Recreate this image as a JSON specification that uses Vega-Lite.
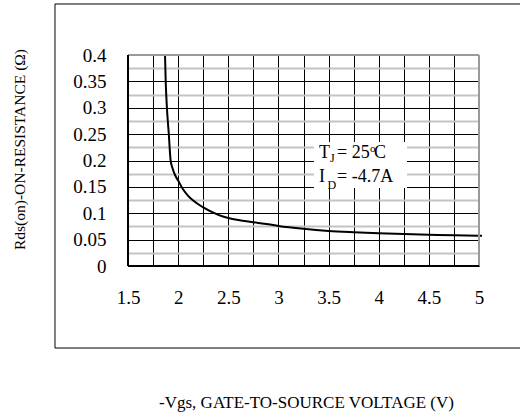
{
  "$schema": "https://vega.github.io/schema/vega-lite/v6.json",
  "width": 351,
  "height": 211,
  "autosize": {"type": "none"},
  "padding": {"left": 128, "top": 55, "right": 41, "bottom": 148},
  "background": "white",
  "config": {"view": {"stroke": null}, "font": "Liberation Serif"},
  "data": {"values": [{"note": "frame"}]},
  "resolve": {"axis": {"x": "independent", "y": "independent"}},
  "layer": [
    {
      "data": {"values": [{"vgs": 1.869, "rds": 0.4}, {"vgs": 1.876, "rds": 0.35}, {"vgs": 1.888, "rds": 0.3}, {"vgs": 1.9, "rds": 0.267}, {"vgs": 1.907, "rds": 0.25}, {"vgs": 1.915, "rds": 0.225}, {"vgs": 1.925, "rds": 0.2}, {"vgs": 1.945, "rds": 0.185}, {"vgs": 1.97, "rds": 0.172}, {"vgs": 2.0, "rds": 0.162}, {"vgs": 2.05, "rds": 0.145}, {"vgs": 2.1, "rds": 0.133}, {"vgs": 2.15, "rds": 0.124}, {"vgs": 2.25, "rds": 0.111}, {"vgs": 2.4, "rds": 0.097}, {"vgs": 2.5, "rds": 0.091}, {"vgs": 2.6, "rds": 0.087}, {"vgs": 2.75, "rds": 0.083}, {"vgs": 2.9, "rds": 0.079}, {"vgs": 3.0, "rds": 0.076}, {"vgs": 3.25, "rds": 0.0705}, {"vgs": 3.5, "rds": 0.0665}, {"vgs": 3.75, "rds": 0.064}, {"vgs": 4.0, "rds": 0.062}, {"vgs": 4.25, "rds": 0.0605}, {"vgs": 4.5, "rds": 0.0593}, {"vgs": 4.75, "rds": 0.0583}, {"vgs": 5.03, "rds": 0.0572}]},
      "mark": {"type": "line", "color": "black", "strokeWidth": 2, "interpolate": "monotone"},
      "encoding": {
        "x": {
          "field": "vgs", "type": "quantitative",
          "scale": {"domain": [1.5, 5], "nice": false, "zero": false},
          "axis": {
            "values": [1.5, 1.75, 2, 2.25, 2.5, 2.75, 3, 3.25, 3.5, 3.75, 4, 4.25, 4.5, 4.75, 5],
            "labelExpr": "(datum.value*2) % 1 == 0 ? format(datum.value, '~g') : ''",
            "grid": true, "gridColor": "black", "gridWidth": 1, "gridOpacity": 1,
            "domain": false, "ticks": false,
            "labelPadding": 22, "labelFont": "Liberation Serif", "labelFontSize": 19, "labelColor": "black", "labelFlush": false, "labelOverlap": false,
            "title": "-Vgs, GATE-TO-SOURCE VOLTAGE (V)",
            "titleFont": "Liberation Serif",
            "titleFontSize": 17, "titleFontWeight": "normal", "titleColor": "black",
            "titleX": 178, "titleY": 136, "titleBaseline": "middle", "titleAlign": "center"
          }
        },
        "y": {
          "field": "rds", "type": "quantitative",
          "scale": {"domain": [0, 0.4], "nice": false},
          "axis": {
            "values": [0, 0.025, 0.05, 0.075, 0.1, 0.125, 0.15, 0.175, 0.2, 0.225, 0.25, 0.275, 0.3, 0.325, 0.35, 0.375, 0.4],
            "labelExpr": "abs(datum.value*20 - round(datum.value*20)) < 0.001 ? format(datum.value, '~g') : ''",
            "grid": true,
            "gridColor": {"condition": {"test": "abs(datum.value*20 - round(datum.value*20)) < 0.001", "value": "black"}, "value": "#c4c4c4"},
            "gridWidth": {"condition": {"test": "abs(datum.value*20 - round(datum.value*20)) < 0.001", "value": 1}, "value": 2},
            "gridOpacity": 1,
            "domain": false, "ticks": false,
            "labelPadding": 22, "labelFont": "Liberation Serif", "labelFontSize": 19, "labelColor": "black", "labelOverlap": false,
            "title": "Rds(on)-ON-RESISTANCE (Ω)",
            "titleFont": "Liberation Serif",
            "titleFontSize": 15.5, "titleFontWeight": "normal", "titleColor": "black",
            "titleX": -109, "titleY": 94, "titleBaseline": "middle", "titleAlign": "center", "titleAngle": -90
          }
        }
      }
    },
    {
      "mark": {"type": "rect", "fillOpacity": 0, "stroke": "black", "strokeWidth": 1, "clip": false},
      "encoding": {
        "x": {"datum": 0.772, "type": "quantitative", "axis": null},
        "x2": {"datum": 6.5},
        "y": {"datum": 0.4967, "type": "quantitative", "axis": null},
        "y2": {"datum": -0.1555}
      }
    },
    {
      "mark": {"type": "rule", "color": "#9a9a9a", "strokeWidth": 2},
      "encoding": {
        "x": {"datum": 1.5, "type": "quantitative", "axis": null},
        "x2": {"datum": 5},
        "y": {"datum": 0.4, "type": "quantitative", "axis": null}
      }
    },
    {
      "mark": {"type": "rule", "color": "#9a9a9a", "strokeWidth": 2},
      "encoding": {
        "x": {"datum": 5, "type": "quantitative", "axis": null},
        "y": {"datum": 0, "type": "quantitative", "axis": null},
        "y2": {"datum": 0.4}
      }
    },
    {
      "mark": {"type": "rule", "color": "black", "strokeWidth": 2},
      "encoding": {
        "x": {"datum": 1.5, "type": "quantitative", "axis": null},
        "y": {"datum": 0, "type": "quantitative", "axis": null},
        "y2": {"datum": 0.4}
      }
    },
    {
      "mark": {"type": "rule", "color": "black", "strokeWidth": 2},
      "encoding": {
        "x": {"datum": 1.5, "type": "quantitative", "axis": null},
        "x2": {"datum": 5},
        "y": {"datum": 0, "type": "quantitative", "axis": null}
      }
    },
    {
      "mark": {"type": "rect", "fill": "white", "stroke": null},
      "encoding": {
        "x": {"datum": 3.354, "type": "quantitative", "axis": null},
        "x2": {"datum": 4.282},
        "y": {"datum": 0.2351, "type": "quantitative", "axis": null},
        "y2": {"datum": 0.1479}
      }
    },
    {
      "data": {"values": [
        {"label": "T", "v": 3.405, "r": 0.2047},
        {"label": "= 25", "v": 3.584, "r": 0.2047},
        {"label": "C", "v": 3.953, "r": 0.2047},
        {"label": "I", "v": 3.405, "r": 0.1592},
        {"label": "= -4.7A", "v": 3.584, "r": 0.1592}
      ]},
      "mark": {"type": "text", "align": "left", "baseline": "alphabetic", "fontSize": 18, "font": "Liberation Serif", "color": "black"},
      "encoding": {
        "x": {"field": "v", "type": "quantitative", "axis": null},
        "y": {"field": "r", "type": "quantitative", "axis": null},
        "text": {"field": "label"}
      }
    },
    {
      "data": {"values": [
        {"label": "J", "v": 3.514, "r": 0.1972},
        {"label": "D", "v": 3.49, "r": 0.1465}
      ]},
      "mark": {"type": "text", "align": "left", "baseline": "alphabetic", "fontSize": 12, "font": "Liberation Serif", "color": "black"},
      "encoding": {
        "x": {"field": "v", "type": "quantitative", "axis": null},
        "y": {"field": "r", "type": "quantitative", "axis": null},
        "text": {"field": "label"}
      }
    },
    {
      "data": {"values": [
        {"label": "o", "v": 3.913, "r": 0.2161}
      ]},
      "mark": {"type": "text", "align": "left", "baseline": "alphabetic", "fontSize": 11, "font": "Liberation Serif", "color": "black"},
      "encoding": {
        "x": {"field": "v", "type": "quantitative", "axis": null},
        "y": {"field": "r", "type": "quantitative", "axis": null},
        "text": {"field": "label"}
      }
    }
  ]
}
